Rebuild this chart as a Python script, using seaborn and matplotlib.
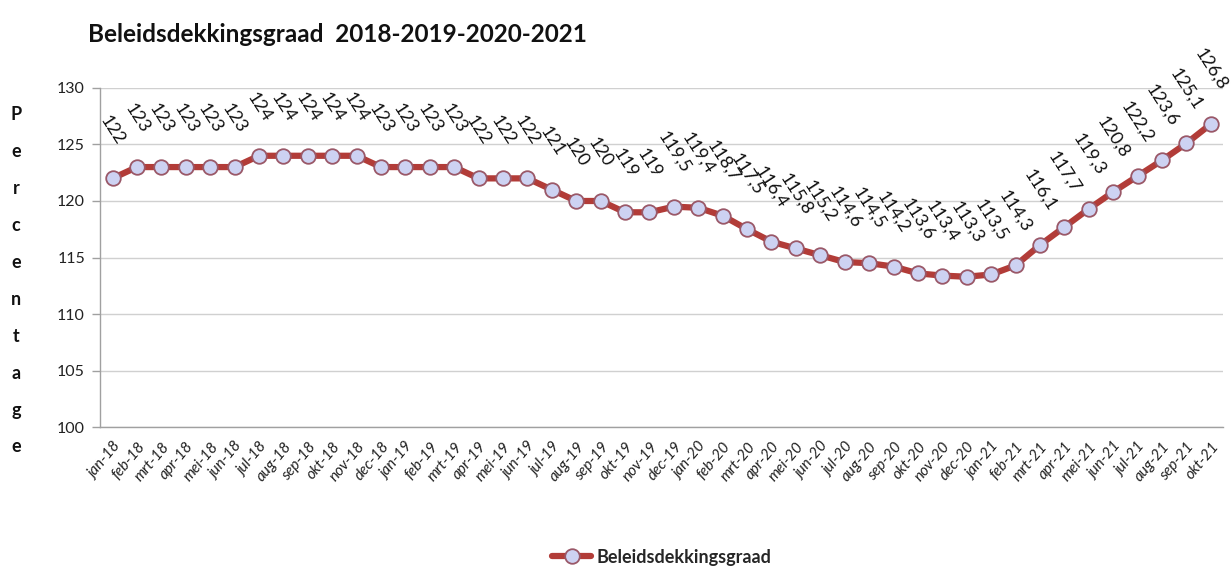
import matplotlib
matplotlib.use("Agg")
import matplotlib.pyplot as plt
import seaborn as sns
import pandas as pd

months = ["jan-18", "feb-18", "mrt-18", "apr-18", "mei-18", "jun-18", "jul-18", "aug-18",
          "sep-18", "okt-18", "nov-18", "dec-18", "jan-19", "feb-19", "mrt-19", "apr-19",
          "mei-19", "jun-19", "jul-19", "aug-19", "sep-19", "okt-19", "nov-19", "dec-19",
          "jan-20", "feb-20", "mrt-20", "apr-20", "mei-20", "jun-20", "jul-20", "aug-20",
          "sep-20", "okt-20", "nov-20", "dec-20", "jan-21", "feb-21", "mrt-21", "apr-21",
          "mei-21", "jun-21", "jul-21", "aug-21", "sep-21", "okt-21"]
values = [122, 123, 123, 123, 123, 123, 124, 124, 124, 124, 124, 123, 123, 123, 123, 122,
          122, 122, 121, 120, 120, 119, 119, 119.5, 119.4, 118.7, 117.5, 116.4, 115.8, 115.2,
          114.6, 114.5, 114.2, 113.6, 113.4, 113.3, 113.5, 114.3, 116.1, 117.7, 119.3, 120.8,
          122.2, 123.6, 125.1, 126.8]
series_name = "Beleidsdekkingsgraad"
title = "Beleidsdekkingsgraad  2018-2019-2020-2021"
y_ticks = [100, 105, 110, 115, 120, 125, 130]
ylabel_letters = list("Percentage")

sns.set_theme(style="white")
plt.rcParams["font.family"] = ["Lato", "DejaVu Sans"]

df = pd.DataFrame({"maand": months, "waarde": values})

fig = plt.figure(figsize=(12.31, 5.71), dpi=100)
ax = fig.add_axes([0.0815, 0.252, 0.912, 0.594])

line_color = "#B23C38"
sns.lineplot(data=df, x="maand", y="waarde", ax=ax, color=line_color, linewidth=4.5,
             marker="o", markersize=10.5, markerfacecolor="#CDD2F2",
             markeredgecolor="#9A5868", markeredgewidth=1.3, label=series_name, sort=False)

ax.set_xlim(-0.5, len(months) - 0.5)
ax.set_ylim(100, 130)
ax.set_yticks(y_ticks)
ax.set_yticklabels([str(t) for t in y_ticks], fontsize=11.5, color="#222222")
ax.yaxis.grid(True, color="#D0D0D0", linewidth=1)
ax.xaxis.grid(False)
ax.set_xlabel("")
ax.set_ylabel("")

ax.set_xticks(range(len(months)))
ax.set_xticklabels(months, rotation=50, ha="right", rotation_mode="anchor",
                   fontsize=11, fontstyle="italic", color="#222222")
ax.tick_params(axis="x", which="major", length=0, pad=9)
ax.set_xticks([i - 0.5 for i in range(len(months) + 1)], minor=True)
ax.tick_params(axis="x", which="minor", length=5, color="#A0A0A0", width=1)
ax.tick_params(axis="y", which="major", length=6, color="#A0A0A0", width=1, left=True, pad=5)

for side in ["top", "right"]:
    ax.spines[side].set_visible(False)
for side in ["left", "bottom"]:
    ax.spines[side].set_color("#A0A0A0")
    ax.spines[side].set_linewidth(1)

for i, v in enumerate(values):
    lab = (f"{v:.1f}".replace(".", ",")) if v != int(v) else str(int(v))
    ax.annotate(lab, (i, v), xytext=(0, 31), textcoords="offset pixels",
                rotation=-57, ha="center", va="bottom", fontsize=13, color="#111111")

leg = ax.legend(loc="upper center", bbox_to_anchor=(0.5, -0.31), frameon=False,
                fontsize=13, handlelength=2.2, handletextpad=0.3)
for t in leg.get_texts():
    t.set_fontweight("bold")

fig.text(88 / 1231, 1 - 35 / 571, title, fontsize=17.5, fontweight="bold",
         ha="left", va="center", color="#111111")

y0, y1 = 115, 447
for k, ch in enumerate(ylabel_letters):
    yy = y0 + k * (y1 - y0) / (len(ylabel_letters) - 1)
    fig.text(16 / 1231, 1 - yy / 571, ch, fontsize=13, fontweight="bold",
             ha="center", va="center", color="#111111")

fig.savefig("out.png", dpi=100)
